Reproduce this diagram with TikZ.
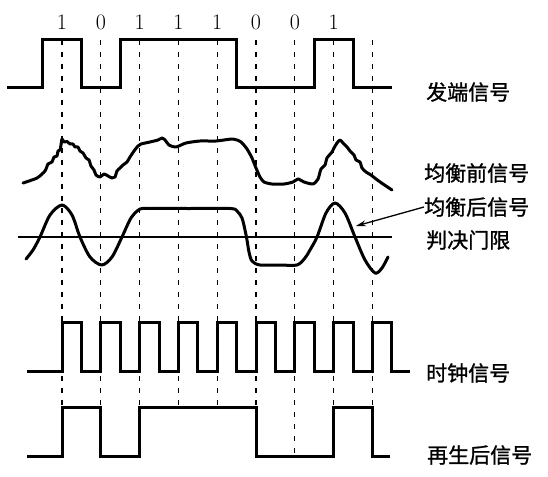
\documentclass[tikz,border=0pt]{standalone}
\usepackage{fontspec}
\newfontfamily\cjk[FakeBold=1.2]{Noto Sans CJK SC}
\usetikzlibrary{arrows.meta}
\begin{document}
\begin{tikzpicture}[x=1pt,y=-1pt,
  sig/.style={line width=3pt, line join=miter},
  gridline/.style={line width=1.3pt, dash pattern=on 5pt off 7pt},
  lbl/.style={anchor=west, font=\cjk\fontsize{21}{21}\selectfont, inner sep=0pt},
  bit/.style={font=\fontsize{22}{22}\selectfont, inner sep=0pt},
  curve/.style={line width=3pt, line join=round, line cap=round}]
\fill[white] (0,0) rectangle (548,476);
\useasboundingbox (0,0) rectangle (548,476);
% dashed timing lines
\foreach \i/\e in {0/407,1/407,2/407,3/407,4/407,5/407,6/456,7/407,8/407}
  \draw[gridline] ({62+38.8*\i},40) -- ({62+38.8*\i},\e);
% bits
\foreach \i/\b in {0/1,1/0,2/1,3/1,4/1,5/0,6/0,7/1}
  \node[bit] (b\i) at ({62+38.8*\i},22) {\b};
% send signal
\draw[sig] (7,88) -- (42.6,88) -- (42.6,40) -- (81.4,40) -- (81.4,88) -- (120.2,88) -- (120.2,40)
  -- (236.6,40) -- (236.6,88) -- (314.2,88) -- (314.2,40) -- (353,40) -- (353,88) -- (392,88);
% pre-equalization signal
\draw[curve] plot[smooth, tension=0.4] coordinates {(23,183) (37,178) (45,171) (48,164) (52,162) (54,157) (57,156) (58,151) (60,150) (61,145) (62,139) (64,142) (67,141.5) (70,144) (73,144) (75,147) (78,147) (80,151) (83,153) (86,158) (89,160) (91,166) (94,170) (96,175) (100,177) (104,174) (108,176) (112,178) (115,177) (117,171) (120,168) (123,165) (127,162) (130,157) (134,151) (138,146) (141,144) (150,142) (158,140) (162,138) (165,140) (169,145) (176,147) (186,143) (200,141) (216,141) (233,139) (241,142) (247,149) (252,158) (256,168) (260,177) (264,182) (272,184) (284,184) (293,182) (298,179) (304,182) (313,184) (318,179) (321,169) (325,165) (327,158) (332,152) (334,148) (337,143) (340,140) (343,143) (347,147) (350,151) (354,155) (356,160) (360,162) (362,168) (366,172) (371,175) (376,179) (383,184) (392,190)};
% threshold
\draw[line width=1.4pt] (18,237) -- (392,237);
% post-equalization signal
\draw[curve] plot[smooth, tension=0.5] coordinates {(26,259) (33,250) (40,237) (50,215) (62,205) (72,215) (80,237) (90,257) (101.7,265) (112,257) (122,237) (131,218) (140,209) (150,208.5) (190,208.5) (230,208.5) (237,211) (242,218) (245,230) (247,240) (249,252) (252,261) (260,265) (280,265) (297,265) (305,258) (310,250) (317,237) (326,213) (335,203) (345,213) (355,237) (365,260) (375,273) (382,268) (388,257)};
% clock
\draw[sig] (27,371) \foreach \i in {0,...,8}{ -- ({62+38.8*\i},371) -- ({62+38.8*\i},322) -- ({81.4+38.8*\i},322) -- ({81.4+38.8*\i},371)} -- (410,371);
% regenerated
\draw[sig] (27,456) -- (62,456) -- (62,407) -- (100.8,407) -- (100.8,456) -- (139.6,456) -- (139.6,407)
  -- (256,407) -- (256,456) -- (333.6,456) -- (333.6,407) -- (372.4,407) -- (372.4,456) -- (390,456);
% labels
\node[lbl] (send) at (426,92) {发端信号};
\node[lbl] (pre) at (424,173) {均衡前信号};
\node[lbl] (post) at (424,207) {均衡后信号};
\node[lbl] (thr) at (426,240) {判决门限};
\node[lbl] (clk) at (426,373) {时钟信号};
\node[lbl] (reg) at (427,455) {再生后信号};
\coordinate (tip) at (356,226);
\draw[line width=1.3pt, -{Stealth[length=10pt,width=6pt]}] (post.west) -- (tip);
\end{tikzpicture}
\end{document}
